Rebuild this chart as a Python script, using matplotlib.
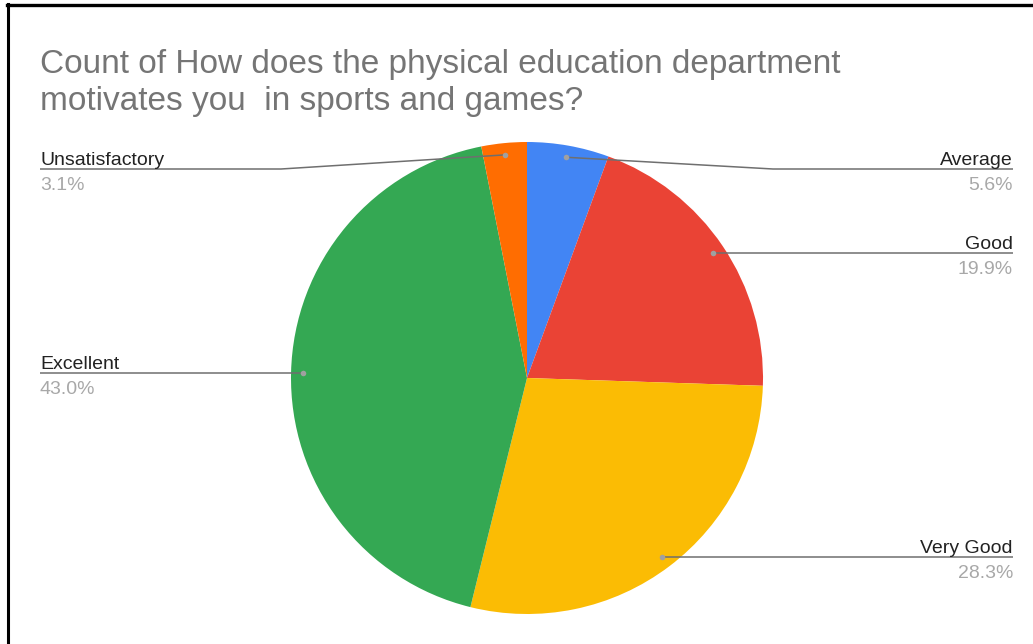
import numpy as np
import matplotlib
matplotlib.use("Agg")
import matplotlib.pyplot as plt
from matplotlib.lines import Line2D

plt.rcParams['font.family'] = ['Liberation Sans', 'DejaVu Sans']

# ---- data ----
categories = ["Average", "Good", "Very Good", "Excellent", "Unsatisfactory"]
percentages = [5.6, 19.9, 28.3, 43.0, 3.1]
colors = ["#4285F4", "#EA4335", "#FBBC04", "#34A853", "#FF6D01"]
title = "Count of How does the physical education department\nmotivates you  in sports and games?"

W, H = 1033, 644
fig = plt.figure(figsize=(W / 100, H / 100), dpi=100)
ax = fig.add_axes([0, 0, 1, 1])

def Y(y_top):
    return H - y_top

cx, cy_top, R = 527, 378, 236
wedges, _ = ax.pie(percentages, colors=colors, startangle=90, counterclock=False,
                   center=(cx, Y(cy_top)), radius=R, frame=True,
                   wedgeprops=dict(linewidth=0))
ax.set_xlim(0, W)
ax.set_ylim(0, H)
ax.set_aspect('equal')
ax.axis('off')

# border (left and top)
fig.add_artist(Line2D([8 / W, 8 / W], [0, 1 - 4 / H], color='black', lw=2.2, transform=fig.transFigure))
fig.add_artist(Line2D([7 / W, 1], [1 - 5 / H, 1 - 5 / H], color='black', lw=2.4, transform=fig.transFigure))

# title
ax.text(40, Y(73), title.split("\n")[0], ha='left', va='baseline', fontsize=24, color='#757575')
ax.text(40, Y(110), title.split("\n")[1], ha='left', va='baseline', fontsize=24, color='#757575')

left_x, right_x = 40, 1013
min_label_y_top = 169
for w, name, p in zip(wedges, categories, percentages):
    ang = np.deg2rad((w.theta1 + w.theta2) / 2)
    dx, dy = np.cos(ang), np.sin(ang)
    px, py = cx + 0.95 * R * dx, Y(cy_top) + 0.95 * R * dy
    py_top = H - py
    ly_top = max(py_top, min_label_y_top)
    right = dx > 0
    tx = right_x if right else left_x
    elbow_x = cx + (R + 10) * (1 if right else -1)
    if abs(ly_top - py_top) < 1:
        xs, ys = [px, tx], [py, py]
    else:
        xs, ys = [px, elbow_x, tx], [py, Y(ly_top), Y(ly_top)]
    ax.plot(xs, ys, color='#6f6f6f', lw=1.1, solid_capstyle='butt', zorder=3)
    ax.plot([px], [py], 'o', color='#a0a0a0', ms=4, mec='none', zorder=4)
    ha = 'right' if right else 'left'
    ax.text(tx, Y(ly_top - 4), name, ha=ha, va='baseline', fontsize=14, color='#222222')
    ax.text(tx, Y(ly_top + 21), f"{p:.1f}%", ha=ha, va='baseline', fontsize=14, color='#a8a8a8')

fig.savefig("out.png", dpi=100, facecolor='white')
